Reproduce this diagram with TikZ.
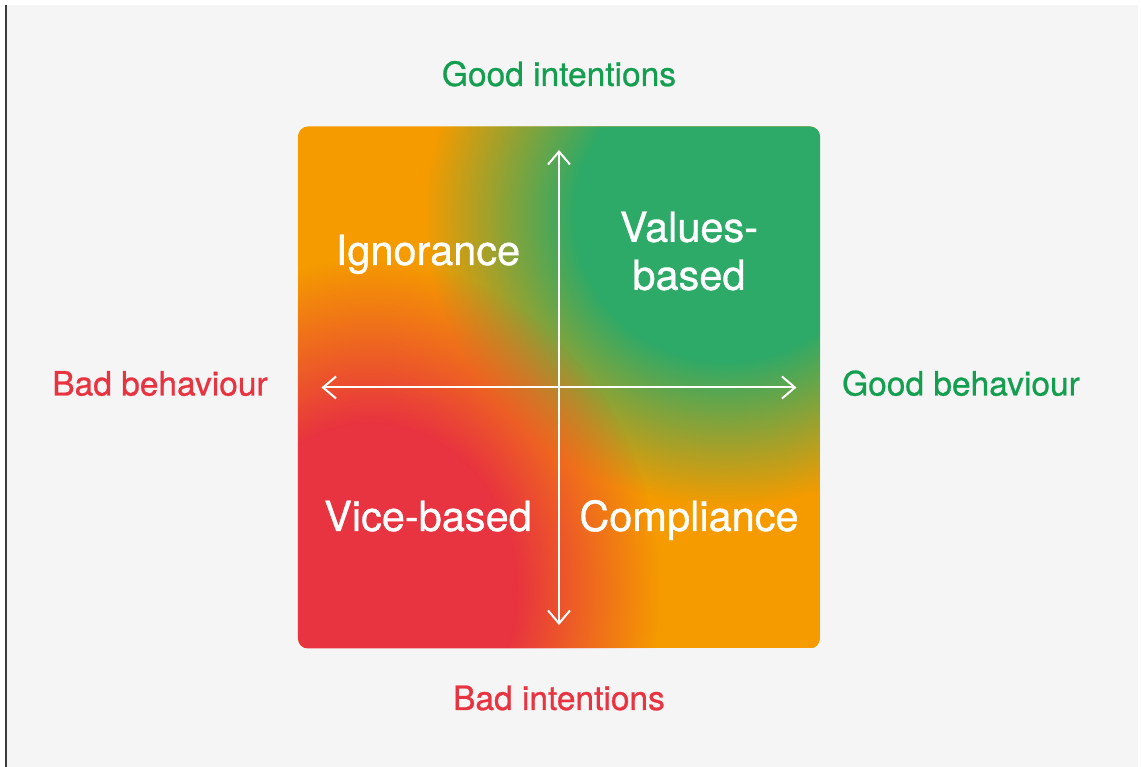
\documentclass[tikz,border=0pt]{standalone}
\usepackage{fontspec}
\setmainfont{TeX Gyre Heros}
\newfontfamily\medfont{TeX Gyre Heros}[FakeBold=0.8]
\usetikzlibrary{arrows.meta,fadings}

\definecolor{panel}{HTML}{F5F5F5}
\definecolor{rule}{HTML}{3C3C3C}
\definecolor{orng}{RGB}{245,155,0}
\definecolor{grn}{RGB}{46,170,104}
\definecolor{rd}{RGB}{232,51,64}
\definecolor{goodtxt}{RGB}{20,158,80}
\definecolor{badtxt}{RGB}{232,51,64}

% soft round blob: opaque core, fading out to the rim (rim sits at 25bp)
\pgfdeclareradialshading{blobshade}{\pgfpointorigin}{color(0bp)=(white); color(12.5bp)=(white); color(25bp)=(black); color(50bp)=(black)}
\pgfdeclarefading{blob}{\pgfuseshading{blobshade}}

\tikzset{
  quad/.style={text=white, font=\medfont\fontsize{41.5}{48}\selectfont, align=center},
  sidelabel/.style={font=\medfont\fontsize{33.5}{40}\selectfont, anchor=base},
  twoway/.style={white, line width=2pt,
    {Straight Barb[length=13pt,width=22pt]}-{Straight Barb[length=13pt,width=22pt]}}
}

\begin{document}
\begin{tikzpicture}[x=1pt,y=1pt]
    \def\half{261}
    \def\reach{237.5}
    \fill[white] (-559,-379.5) rectangle (582,387.5);
    \useasboundingbox (-559,-379.5) rectangle (582,387.5);
    \fill[panel] (-552,-379.5) rectangle (579,382.5);
    \fill[rule] (-554,-379.5) rectangle (-552,382.5);

    % the square: orange ground, green top right, red bottom left
    \begin{scope}
      \clip[rounded corners=10pt] (-\half,-\half) rectangle (\half,\half);
      \fill[orng] (-\half,-\half) rectangle (\half,\half);
      \fill[grn, path fading=blob] (166,172) ellipse (300 and 290);
      \fill[rd, path fading=blob] (-189,-202) ellipse (290 and 330);
    \end{scope}

    \coordinate (top) at (0,\reach);
    \coordinate (bottom) at (0,-\reach);
    \coordinate (left) at (-\reach,0);
    \coordinate (right) at (\reach,0);
    \draw[twoway] (left) -- (right);
    \draw[twoway] (bottom) -- (top);

    \node[quad, anchor=base] (ignorance) at (-131,122.5) {Ignorance};
    \node[quad] (values) at (130,136.5) {Values-\\based};
    \node[quad, anchor=base] (vice) at (-131,-143.5) {Vice-based};
    \node[quad, anchor=base] (compliance) at (130,-143.5) {Compliance};

    \node[sidelabel, text=goodtxt] (goodint) at (0,301.5) {Good intentions};
    \node[sidelabel, text=badtxt] (badint) at (0,-322.5) {Bad intentions};
    \node[sidelabel, text=badtxt] (badbeh) at (-399,-8) {Bad behaviour};
    \node[sidelabel, text=goodtxt] (goodbeh) at (402,-8) {Good behaviour};
  \end{tikzpicture}
\end{document}
